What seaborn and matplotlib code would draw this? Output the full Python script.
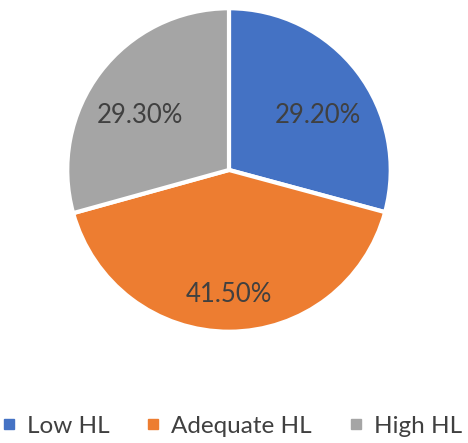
import matplotlib
matplotlib.use("Agg")
import matplotlib.pyplot as plt
from matplotlib.lines import Line2D
import seaborn as sns

labels = ["Low HL", "Adequate HL", "High HL"]
values = [29.2, 41.5, 29.3]
colors = ["#4472C4", "#ED7D31", "#A5A5A5"]

sns.set_theme(style="white")
plt.rcParams['font.family'] = ['Lato', 'DejaVu Sans']

fig = plt.figure(figsize=(4.68, 4.43), dpi=100)
ax = fig.add_axes([0.1368, 0.2438, 0.705, 0.745])

wedges, texts, autotexts = ax.pie(
    values, colors=colors, startangle=90, counterclock=False,
    autopct=lambda p: f"{p:.2f}%", pctdistance=0.69,
    wedgeprops=dict(edgecolor="white", linewidth=3),
    textprops=dict(color="#404040", fontsize=18.5))
# excel-style labels sit a bit lower than the radial midpoint
for t in autotexts:
    x, y = t.get_position()
    t.set_position((x, y - 0.08))
ax.set_xlim(-1.02, 1.02)
ax.set_ylim(-1.02, 1.02)
ax.set_aspect("equal")

handles = [Line2D([0], [0], marker="s", linestyle="", markersize=7,
                  markerfacecolor=c, markeredgecolor=c) for c in colors]
fig.legend(handles, labels, loc="lower center", ncol=3, frameon=False,
           bbox_to_anchor=(0.495, -0.035), fontsize=17.5, handlelength=0.6,
           handletextpad=0.45, columnspacing=1.5, labelcolor="#404040")

fig.savefig("out.png", dpi=100)
